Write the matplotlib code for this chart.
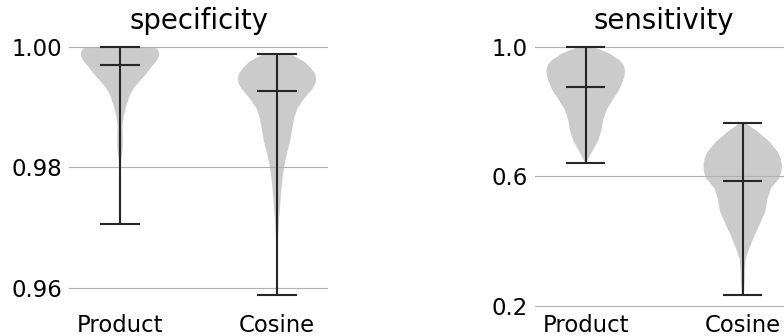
import matplotlib
matplotlib.use('Agg')
import matplotlib.pyplot as plt
import numpy as np

categories = ['Product', 'Cosine']
titles = ['specificity', 'sensitivity']
yticks_spec = [0.96, 0.98, 1.00]
yticks_sens = [0.2, 0.6, 1.0]

# summary values (min, median, max)
spec_min = [0.9707, 0.9589]
spec_median = [0.9970, 0.99275]
spec_max = [1.0000, 0.99878]
sens_min = [0.640, 0.2337]
sens_median = [0.876, 0.5854]
sens_max = [1.000, 0.765]

# density profiles (value levels and relative density)
spec_product_y = [0.9707, 0.9790, 0.98013, 0.98124, 0.98290, 0.98456, 0.98678, 0.98844,
                  0.99010, 0.99120, 0.99231, 0.99342, 0.99452, 0.99563, 0.99674,
                  0.99784, 0.99850, 0.99895, 0.99950, 1.0000]
spec_product_d = [0.0, 0.0, 0.4, 1.2, 2.4, 2.8, 2.4, 3.6, 6.0, 8.3, 10.7, 15.0, 20.7,
                  26.7, 31.7, 37.3, 39.0, 39.3, 38.0, 35.0]

spec_cosine_y = [0.9589, 0.96603, 0.96880, 0.97156, 0.97433, 0.97710, 0.97986, 0.98207,
                 0.98429, 0.98650, 0.98816, 0.98982, 0.99148, 0.99314, 0.99400, 0.99480,
                 0.99560, 0.99646, 0.99757, 0.99867, 0.99878]
spec_cosine_d = [0.0, 0.6, 1.2, 2.0, 3.3, 4.7, 6.7, 9.3, 12.7, 15.0, 16.7, 20.0, 26.7,
                 35.0, 37.5, 38.3, 37.0, 33.3, 26.7, 15.0, 12.0]

sens_product_y = [0.640, 0.6555, 0.6813, 0.7123, 0.7432, 0.7741, 0.8051, 0.8360, 0.8670,
                  0.8979, 0.9130, 0.9288, 0.9450, 0.9598, 0.9804, 0.9920, 1.000]
sens_product_d = [0.5, 2.7, 7.3, 12.7, 15.7, 17.3, 20.7, 26.7, 33.3, 37.3, 38.7, 39.0,
                  37.5, 33.3, 23.3, 14.0, 7.3]

sens_cosine_y = [0.2337, 0.2740, 0.3153, 0.3462, 0.3771, 0.4081, 0.4493, 0.4906, 0.5318,
                 0.5628, 0.5937, 0.6140, 0.6349, 0.6560, 0.6762, 0.7071, 0.7380, 0.7530,
                 0.765]
sens_cosine_d = [1.2, 1.8, 2.2, 3.2, 6.7, 10.7, 16.7, 22.7, 25.0, 28.3, 36.7, 38.8, 39.3,
                 38.0, 35.0, 26.7, 15.0, 8.0, 3.3]

panel_data = [
    (spec_min, spec_median, spec_max,
     [(spec_product_y, spec_product_d), (spec_cosine_y, spec_cosine_d)], yticks_spec,
     ['0.96', '0.98', '1.00']),
    (sens_min, sens_median, sens_max,
     [(sens_product_y, sens_product_d), (sens_cosine_y, sens_cosine_d)], yticks_sens,
     ['0.2', '0.6', '1.0']),
]

fig = plt.figure(figsize=(7.84, 3.36), dpi=100)
ax_lefts = [0.088, 0.682]
for k, (mins, meds, maxs, profiles, yt, ytl) in enumerate(panel_data):
    ax = fig.add_axes([ax_lefts[k], 0.0863, 0.3304, 0.8107])
    vpstats = []
    for i in range(len(categories)):
        yy, dd = profiles[i]
        vpstats.append(dict(coords=np.array(yy), vals=np.array(dd),
                            mean=meds[i], median=meds[i], min=mins[i], max=maxs[i]))
    parts = ax.violin(vpstats, positions=[1, 2], widths=0.5,
                      showmeans=False, showextrema=True, showmedians=True)
    for b in parts['bodies']:
        b.set_facecolor('#cbcbcb')
        b.set_edgecolor('none')
        b.set_alpha(1.0)
    for key in ['cmaxes', 'cmins', 'cbars', 'cmedians']:
        parts[key].set_color('#262626')
        parts[key].set_linewidth(1.5)
    ax.set_xticks([1, 2])
    ax.set_xticklabels(categories)
    ax.set_yticks(yt)
    ax.set_yticklabels(ytl)
    ax.tick_params(axis='both', length=0, labelsize=16.4, pad=5)
    ax.yaxis.grid(True, color='#b0b0b0', linewidth=0.8)
    ax.xaxis.grid(False)
    for s in ax.spines.values():
        s.set_visible(False)
    ax.set_title(titles[k], fontsize=19.8, pad=3)

fig.savefig('out.png', dpi=100)
